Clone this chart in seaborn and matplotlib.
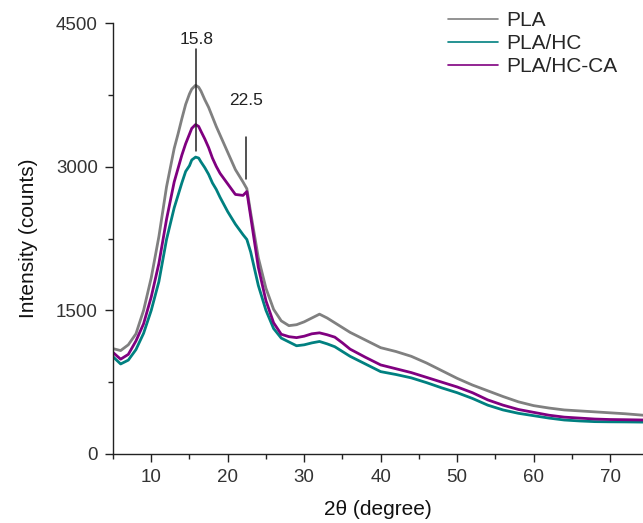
import numpy as np
import pandas as pd
import matplotlib
matplotlib.use("Agg")
import matplotlib.pyplot as plt
from matplotlib.ticker import MultipleLocator
from matplotlib.lines import Line2D
import seaborn as sns

# ---- data ----
two_theta = [5, 6, 7, 8, 9, 10, 11, 12, 13, 13.5, 14, 14.5, 15, 15.3, 15.8, 16.2, 16.5, 17, 17.5,
             18, 18.5, 19, 20, 21, 22, 22.5,
             23, 24, 25, 26, 27, 28, 29, 30, 31, 32, 33, 34, 35, 36, 38, 40, 42, 44, 46, 48,
             50, 52, 54, 56, 58, 60, 62, 64, 66, 68, 70, 72, 74.3]

pla = [1100, 1080, 1140, 1255, 1500, 1840, 2270, 2790, 3190, 3340, 3500, 3650, 3760, 3810, 3850,
       3830, 3790, 3700, 3620, 3520, 3420,
       3330, 3150, 2970, 2840, 2770, 2520, 2050, 1730, 1510, 1390, 1340, 1350, 1380, 1420, 1460,
       1420, 1370, 1320, 1270, 1190, 1110, 1070, 1020, 950, 870, 790, 720, 660, 600, 545, 505,
       480, 460, 450, 440, 430, 420, 405]

pla_hc = [1015, 940, 980, 1090, 1260, 1500, 1800, 2240, 2570, 2700, 2830, 2950, 3010, 3070, 3100,
          3090, 3050, 2990, 2920, 2830, 2763,
          2680, 2530, 2400, 2290, 2240, 2110, 1760, 1500, 1310, 1210, 1170, 1130, 1140, 1160, 1175,
          1150, 1120, 1070, 1020, 940, 860, 830, 795, 745, 690, 640, 580, 510, 460, 425, 400,
          375, 355, 345, 338, 336, 335, 333]

pla_hc_ca = [1060, 990, 1040, 1180, 1360, 1640, 1990, 2450, 2840, 2980, 3120, 3240, 3340, 3400, 3440,
             3420, 3370, 3290, 3200, 3090, 3003,
             2930, 2820, 2710, 2700, 2740, 2480, 1950, 1600, 1370, 1250, 1225, 1215, 1230, 1255, 1265,
             1245, 1220, 1160, 1095, 1010, 930, 890, 850, 800, 750, 700, 640, 565, 510, 465, 435,
             405, 385, 375, 365, 360, 358, 355]

series_names = ["PLA", "PLA/HC", "PLA/HC-CA"]
series_colors = ["#808080", "#008080", "#800080"]

peak_labels = ["15.8", "22.5"]
peak_x = [15.9, 22.45]
peak_text_y = [4330, 3690]
peak_line_top = [4230, 3310]
peak_line_bottom = [3160, 2870]

x_ticks = [10, 20, 30, 40, 50, 60, 70]
y_ticks = [0, 1500, 3000, 4500]

# ---- build table ----
df = pd.concat([
    pd.DataFrame({"two_theta": two_theta, "intensity": vals, "sample": name})
    for name, vals in zip(series_names, [pla, pla_hc, pla_hc_ca])
], ignore_index=True)

sns.set_style("ticks")
plt.rcParams["font.family"] = ["Liberation Sans", "DejaVu Sans"]

fig = plt.figure(figsize=(6.43, 5.23), dpi=100)
ax = fig.add_axes([113 / 643, 69 / 523, 1 - 113 / 643, (454 - 23) / 523])

sns.lineplot(data=df, x="two_theta", y="intensity", hue="sample",
             palette=dict(zip(series_names, series_colors)),
             hue_order=series_names, linewidth=2.0, ax=ax, legend=False)

ax.set_xlim(5, 74.3)
ax.set_ylim(0, 4500)
ax.set_xticks(x_ticks)
ax.set_yticks(y_ticks)
ax.xaxis.set_minor_locator(MultipleLocator(5))
ax.yaxis.set_minor_locator(MultipleLocator(750))
ax.tick_params(axis="both", which="major", direction="out", length=6, width=1,
               labelsize=13.5, colors="#222222", labelcolor="#333333", pad=5)
ax.tick_params(axis="both", which="minor", direction="out", length=3.5, width=1, colors="#222222")
for side in ["top", "right"]:
    ax.spines[side].set_visible(False)
for side in ["left", "bottom"]:
    ax.spines[side].set_color("#222222")
    ax.spines[side].set_linewidth(1)

ax.set_xlabel("2θ (degree)", fontsize=15, color="#111111", labelpad=10)
ax.set_ylabel("Intensity (counts)", fontsize=15, color="#111111", labelpad=13)

for lab, px, ty, lt, lb in zip(peak_labels, peak_x, peak_text_y, peak_line_top, peak_line_bottom):
    ax.plot([px, px], [lb, lt], color="#222222", linewidth=1.1)
    ax.text(px, ty, lab, ha="center", va="center", fontsize=12.5, color="#222222")

handles = [Line2D([], [], color=c, linewidth=1.2) for c in series_colors]
leg = fig.legend(handles, series_names, loc="upper left",
                 bbox_to_anchor=(448 / 643, 1 - 11 / 523), frameon=False,
                 fontsize=15, handlelength=2.4, handletextpad=0.4,
                 labelspacing=0.2, borderpad=0, borderaxespad=0)

fig.savefig("out.png", dpi=100)
